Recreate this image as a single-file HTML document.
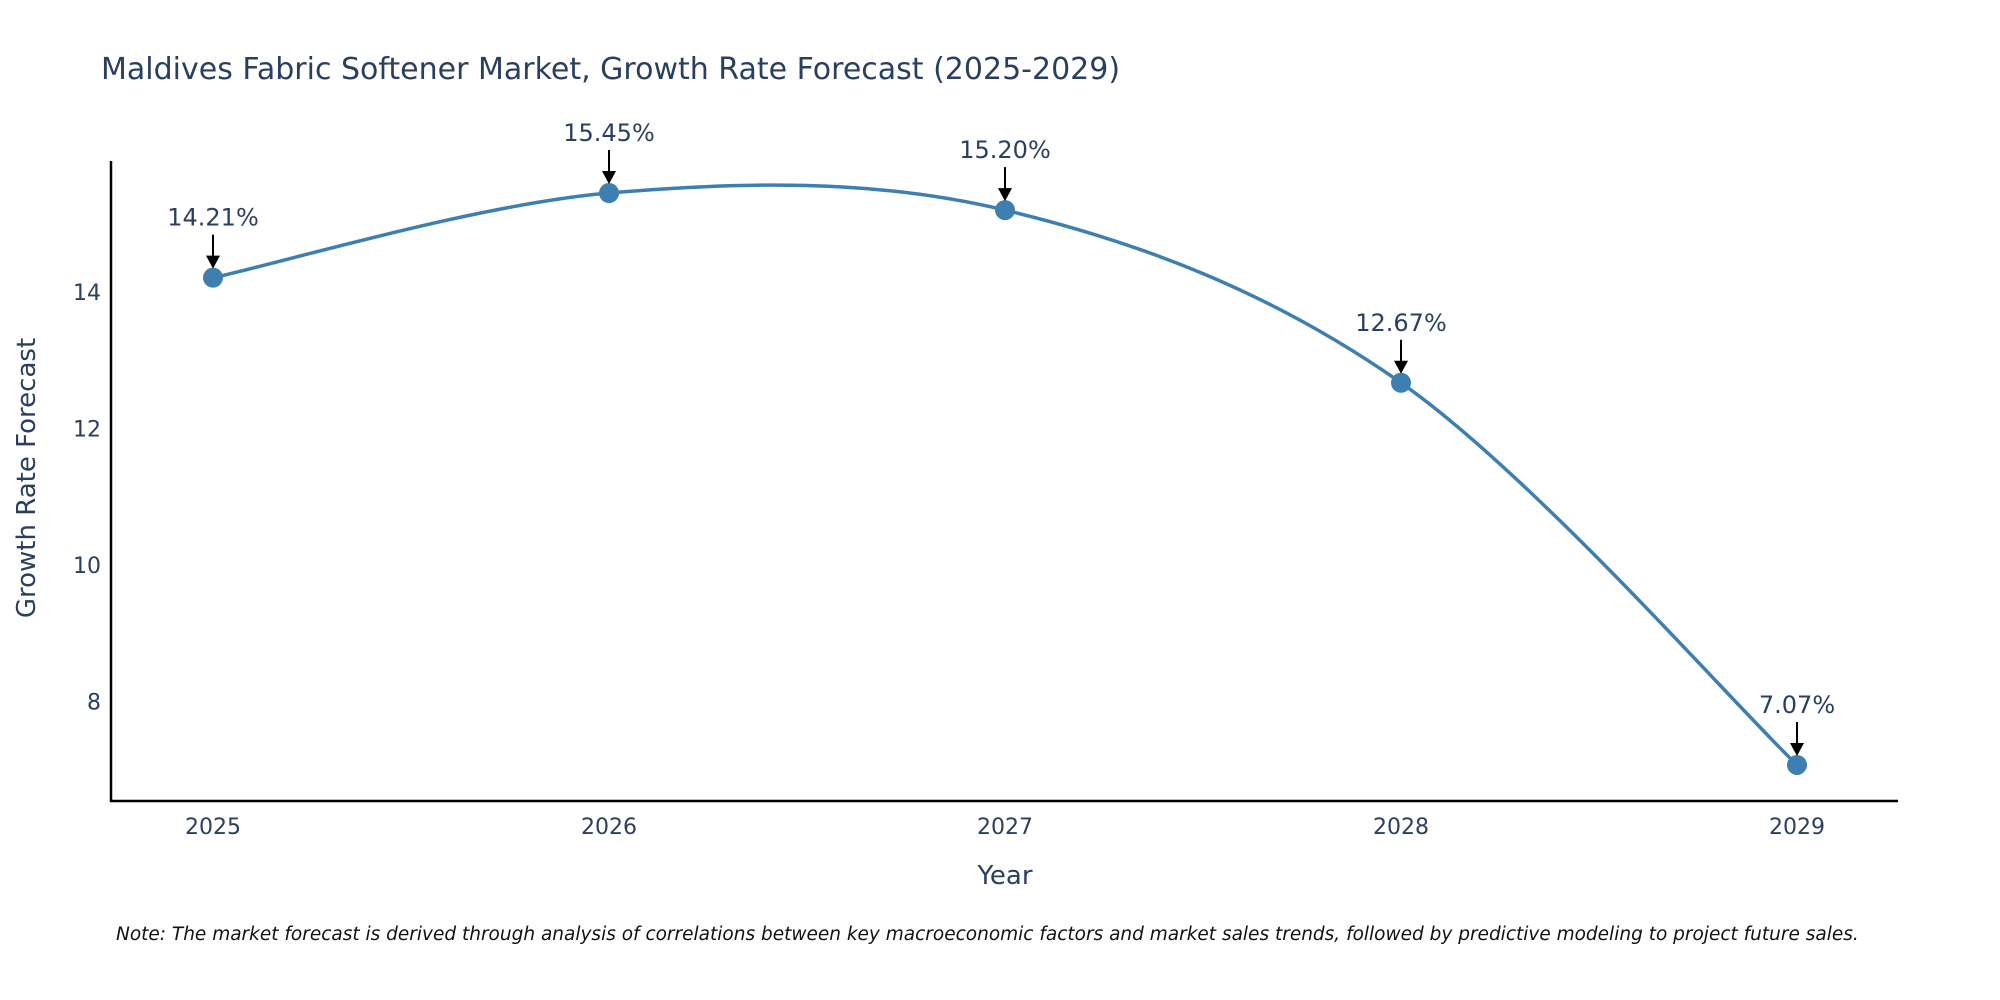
<!DOCTYPE html>
<html><head><meta charset="utf-8"><style>
body{margin:0;background:#fff;}
svg{display:block;font-family:"DejaVu Sans","Liberation Sans",sans-serif;}
</style></head><body>
<svg id="chart" width="2000" height="1000" viewBox="0 0 2000 1000">
<text x="101" y="79" font-size="30" fill="#2a3f5f">Maldives Fabric Softener Market, Growth Rate Forecast (2025-2029)</text>
<g id="axes"></g>
<g id="series"></g>
<g id="annots"></g>
<text x="1005" y="884" font-size="26" fill="#2a3f5f" text-anchor="middle">Year</text>
<text transform="translate(35,478) rotate(-90)" font-size="26" fill="#2a3f5f" text-anchor="middle">Growth Rate Forecast</text>
<text x="116" y="940" font-size="18.5" font-style="italic" fill="#111">Note: The market forecast is derived through analysis of correlations between key macroeconomic factors and market sales trends, followed by predictive modeling to project future sales.</text>
</svg>
<script>
const years = [2025, 2026, 2027, 2028, 2029];
const values = [14.21, 15.45, 15.20, 12.67, 7.07];
const labels = ["14.21%", "15.45%", "15.20%", "12.67%", "7.07%"];
const yTicks = [8, 10, 12, 14];

const NS = "http://www.w3.org/2000/svg";
const X = v => 213 + (v - 2025) * 396;
const Y = v => 292 - (v - 14) * 68.25;
function mk(tag, attrs, parent){const e=document.createElementNS(NS,tag);for(const k in attrs)e.setAttribute(k,attrs[k]);parent.appendChild(e);return e;}
const axes=document.getElementById('axes'), series=document.getElementById('series'), ann=document.getElementById('annots');

let a=mk('line',{x1:111,y1:161,x2:111,y2:802,stroke:'#000','stroke-width':2.5},axes);


a=mk('line',{x1:110,y1:801,x2:1898,y2:801,stroke:'#000','stroke-width':2.5},axes);


yTicks.forEach(t=>{
  const e=mk('text',{x:101,y:Y(t)+8,'font-size':22,fill:'#2a3f5f','text-anchor':'end'},axes);
  e.textContent=t;
  
  
});
years.forEach(t=>{
  const e=mk('text',{x:X(t),y:834,'font-size':22,fill:'#2a3f5f','text-anchor':'middle'},axes);
  e.textContent=t;
  
  
});

const pts=years.map((y,i)=>[X(y),Y(values[i])]);
let d='M'+pts[0][0]+','+pts[0][1];
const s=0.5/3*2;
for(let i=0;i<pts.length-1;i++){
  const p0=pts[Math.max(i-1,0)],p1=pts[i],p2=pts[i+1],p3=pts[Math.min(i+2,pts.length-1)];
  const c1=[p1[0]+(p2[0]-p0[0])*s/2,p1[1]+(p2[1]-p0[1])*s/2];
  const c2=[p2[0]-(p3[0]-p1[0])*s/2,p2[1]-(p3[1]-p1[1])*s/2];
  d+=` C${c1[0]},${c1[1]} ${c2[0]},${c2[1]} ${p2[0]},${p2[1]}`;
}
const line=mk('path',{d:d,fill:'none',stroke:'#3d7fb0','stroke-width':3.5},series);


pts.forEach((p,i)=>{
  const c=mk('circle',{cx:p[0],cy:p[1],r:10,fill:'#3d7fb0'},series);
  
  
  const t=mk('text',{x:p[0],y:p[1]-52,'font-size':24,fill:'#2a3f5f','text-anchor':'middle'},ann);
  t.textContent=labels[i];
  
  
  const l=mk('line',{x1:p[0],y1:p[1]-43,x2:p[0],y2:p[1]-20,stroke:'#000','stroke-width':2},ann);
  
  
  const h=mk('polygon',{points:`${p[0]-7},${p[1]-22} ${p[0]+7},${p[1]-22} ${p[0]},${p[1]-9}`,fill:'#000'},ann);
  
  
});
</script>
</body></html>
